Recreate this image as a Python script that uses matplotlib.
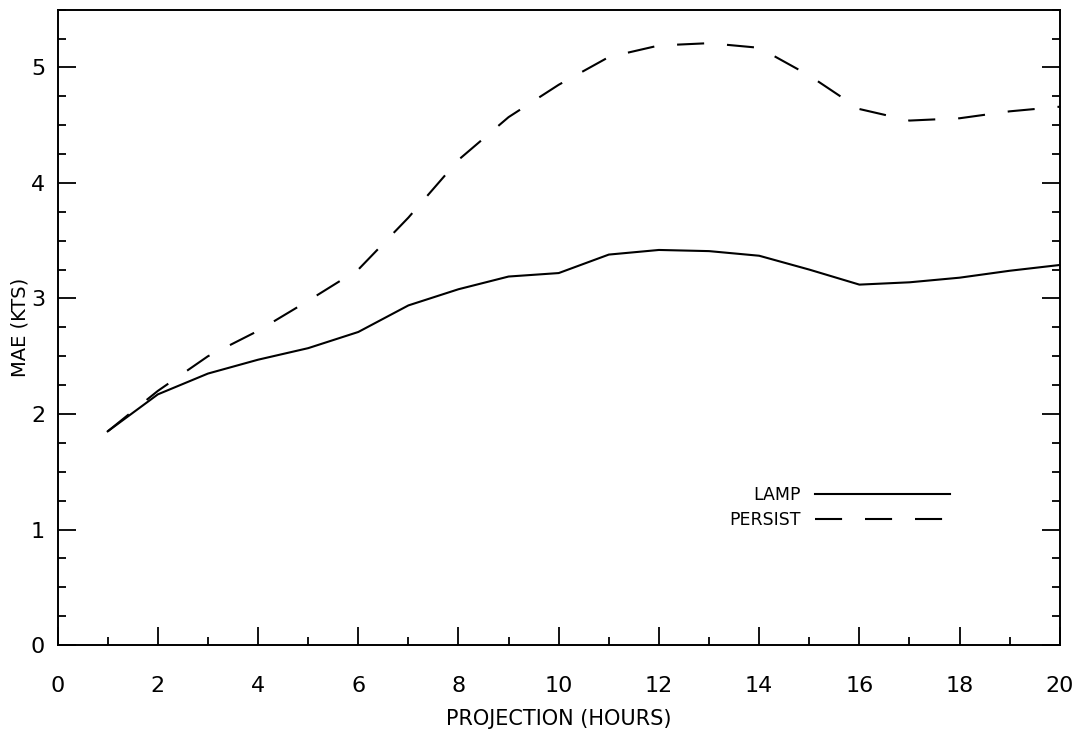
import numpy as np
import matplotlib
matplotlib.use('Agg')
import matplotlib.pyplot as plt
from matplotlib.ticker import MultipleLocator

# Mean absolute error by projection hour
hours = [1, 2, 3, 4, 5, 6, 7, 8, 9, 10, 11, 12, 13, 14, 15, 16, 17, 18, 19, 20]
lamp = [1.85, 2.17, 2.35, 2.47, 2.57, 2.71, 2.94, 3.08, 3.19, 3.22,
        3.38, 3.42, 3.41, 3.37, 3.25, 3.12, 3.14, 3.18, 3.24, 3.29]
persist = [1.85, 2.2, 2.5, 2.72, 2.98, 3.25, 3.7, 4.2, 4.57, 4.85,
           5.09, 5.19, 5.21, 5.17, 4.93, 4.64, 4.54, 4.56, 4.62, 4.66]

x_ticks = [0, 2, 4, 6, 8, 10, 12, 14, 16, 18, 20]
y_ticks = [0, 1, 2, 3, 4, 5]

plt.rcParams['font.family'] = ['DejaVu Sans']

fig = plt.figure(figsize=(10.87, 7.44), dpi=100)
ax = fig.add_axes([0.053, 0.133, 0.922, 0.854])

ax.plot(hours, lamp, color='black', lw=1.5, label='LAMP')
ax.plot(hours, persist, color='black', lw=1.5, dashes=(13, 11), label='PERSIST')

ax.set_xlim(0, 20)
ax.set_ylim(0, 5.5)
ax.set_xticks(x_ticks)
ax.set_yticks(y_ticks)
ax.xaxis.set_minor_locator(MultipleLocator(1))
ax.yaxis.set_minor_locator(MultipleLocator(0.25))

ax.tick_params(axis='both', which='major', direction='in', length=13, width=1.3,
               labelsize=16, color='black')
ax.tick_params(axis='both', which='minor', direction='in', length=6, width=1.3,
               color='black')
ax.tick_params(axis='x', which='major', pad=22)
ax.tick_params(axis='y', which='major', pad=9)
ax.tick_params(axis='y', which='both', right=True)

for s in ax.spines.values():
    s.set_linewidth(1.4)

ax.set_xlabel('PROJECTION (HOURS)', fontsize=15, labelpad=10)
ax.set_ylabel('MAE (KTS)', fontsize=14, labelpad=1)

ax.legend(loc='upper left', bbox_to_anchor=(0.655, 0.275), frameon=False,
          markerfirst=False, handlelength=7.8, fontsize=12.5, labelspacing=0.4)

fig.savefig('out.png', dpi=100)
